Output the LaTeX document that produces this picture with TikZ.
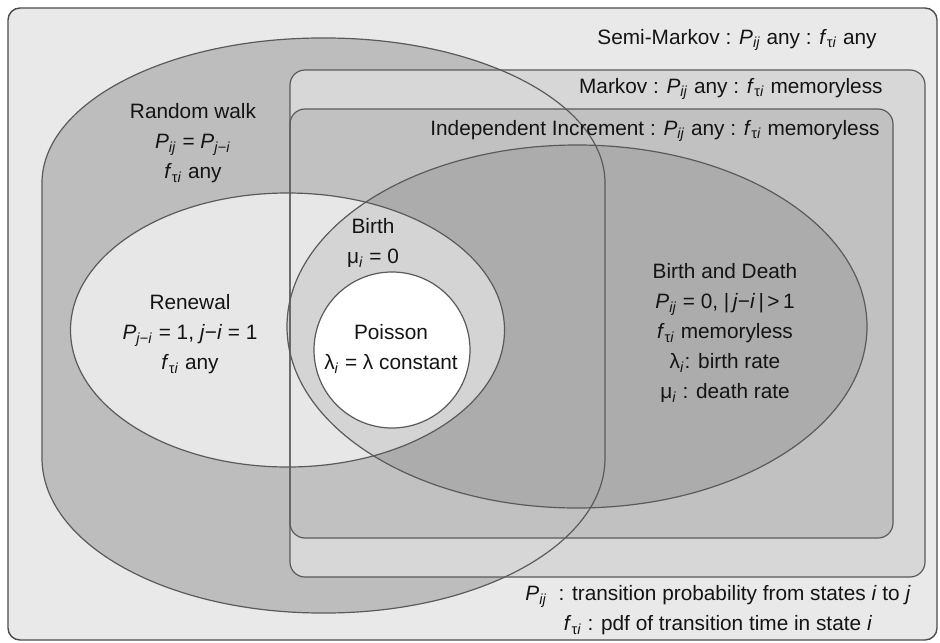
\documentclass[tikz,border=0pt]{standalone}
\usepackage{fontspec}
\setmainfont{Liberation Sans}
\usepackage{tikz}

\definecolor{bggray}{HTML}{E9E9E9}
\definecolor{rwgray}{HTML}{BDBDBD}
\definecolor{mkgray}{HTML}{D7D7D7}
\definecolor{iigray}{HTML}{C1C1C1}
\definecolor{bdgray}{HTML}{ACACAC}
\definecolor{rngray}{HTML}{E7E7E7}
\definecolor{btgray}{HTML}{D4D4D4}
\definecolor{edgegray}{HTML}{5A5A5A}

\newcommand{\Pij}{\textit{P}\textsubscript{\textit{ij}}}
\newcommand{\ftau}{\textit{f}\textsubscript{τ\textit{i}}}
\newcommand{\rwshape}{(42,183) .. controls (42,103) and (167,38) .. (322,38) -- (325,38) .. controls (480,38) and (605,103) .. (605,183) -- (605,458) .. controls (605,544) and (480,613) .. (325,613) -- (322,613) .. controls (167,613) and (42,544) .. (42,458) -- cycle}

\begin{document}
\begin{tikzpicture}[x=0.5pt, y=-0.5pt,
    every node/.style = {font=\fontsize{10.4}{15}\selectfont, align=center,
        inner sep=1pt, text=black!92},
    outline/.style = {draw=edgegray, line width=0.6pt}]
\useasboundingbox (0,0) rectangle (940,642);
\draw[fill=bggray, draw=black!70, line width=0.7pt, rounded corners=6pt] (8,8) rectangle (937,640);
\fill[rwgray] \rwshape;
\fill[mkgray, rounded corners=7.5pt] (290,70) rectangle (925,577);
\fill[iigray, rounded corners=7.5pt] (290,109) rectangle (893,538);
\fill[bdgray] (577,326.5) ellipse [x radius=290, y radius=181.5];
\fill[rngray] (287.5,330) ellipse [x radius=217, y radius=137];
\begin{scope}
  \clip (287.5,330) ellipse [x radius=217, y radius=137];
  \fill[btgray] (577,326.5) ellipse [x radius=290, y radius=181.5];
\end{scope}
\fill[white] (392,350) circle [radius=78];
% outlines on top
\draw[outline] \rwshape;
\draw[outline, rounded corners=7.5pt] (290,70) rectangle (925,577);
\draw[outline, rounded corners=7.5pt] (290,109) rectangle (893,538);
\draw[outline] (577,326.5) ellipse [x radius=290, y radius=181.5];
\draw[outline] (287.5,330) ellipse [x radius=217, y radius=137];
\draw[outline] (392,350) circle [radius=78];

\node (semi) [anchor=east] at (879,40) {Semi-Markov : \Pij{} any : \ftau{} any};
\node (markov) [anchor=east] at (885,89) {Markov : \Pij{} any : \ftau{} memoryless};
\node (indep) [anchor=east] at (882,131) {Independent Increment : \Pij{} any : \ftau{} memoryless};
\node (walk) at (193,143) {Random walk\\ \Pij{} = \textit{P}\textsubscript{\textit{j}−\textit{i}}\\ \ftau{} any};
\node (renewal) at (190,334) {Renewal\\ \textit{P}\textsubscript{\textit{j}−\textit{i}} = 1, \textit{j}−\textit{i} = 1\\ \ftau{} any};
\node (birth) at (373,243) {Birth\\ μ\textsubscript{\textit{i}} = 0};
\node (poisson) at (391,349) {Poisson\\ λ\textsubscript{\textit{i}} = λ constant};
\node (birthdeath) at (725,333) {Birth and Death\\ \Pij{} = 0, |\,\textit{j}−\textit{i}\,|\,>\,1\\ \ftau{} memoryless\\ λ\textsubscript{\textit{i}}: birth rate\\ μ\textsubscript{\textit{i}} : death rate};
\node (legend) at (718,610) {\Pij{}\ \ : transition probability from states \textit{i} to \textit{j}\\ \ftau{} : pdf of transition time in state \textit{i}};
\end{tikzpicture}
\end{document}
